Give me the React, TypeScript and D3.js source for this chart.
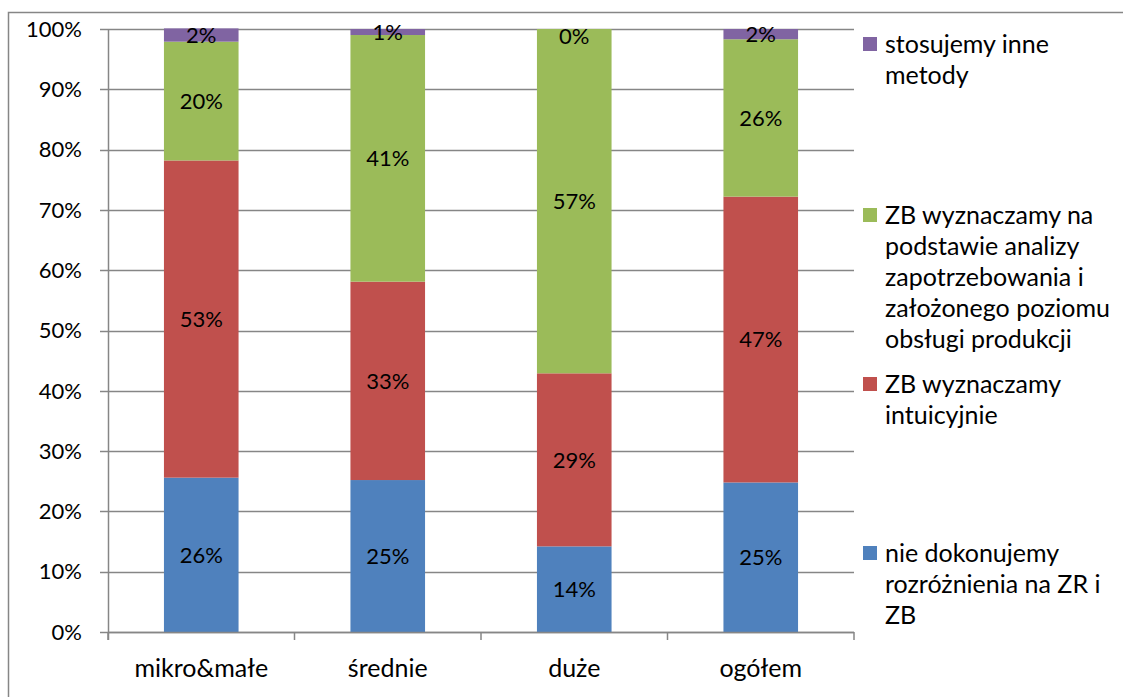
import { useEffect, useRef } from "react";
import * as d3 from "d3";

// Data
const categories = ["mikro&małe", "średnie", "duże", "ogółem"];
const seriesNames = [
    "nie dokonujemy rozróżnienia na ZR i ZB",
    "ZB wyznaczamy intuicyjnie",
    "ZB wyznaczamy na podstawie analizy zapotrzebowania i założonego poziomu obsługi produkcji",
    "stosujemy inne metody",
];
const nieDokonujemy = [25.6, 25.2, 14.2, 24.8];
const intuicyjnie = [52.6, 32.9, 28.7, 47.4];
const naPodstawie = [19.7, 40.9, 57.1, 26.1];
const inneMetody = [2.2, 1.0, 0, 1.7];
const yTicks = [0, 10, 20, 30, 40, 50, 60, 70, 80, 90, 100];

// legend text wrapped like the original
const legendLines = [
    ["nie dokonujemy", "rozróżnienia na ZR i", "ZB"],
    ["ZB wyznaczamy", "intuicyjnie"],
    ["ZB wyznaczamy na", "podstawie analizy", "zapotrzebowania i", "założonego poziomu", "obsługi produkcji"],
    ["stosujemy inne", "metody"],
];
const legendTop = [553, 384, 215, 44];

const colors = ["#4F81BD", "#C0504D", "#9BBB59", "#8064A2"];
const font = "Lato, 'Open Sans', sans-serif";

export default function App() {
    const svgRef = useRef<SVGSVGElement>(null);

    useEffect(() => {
        if (!svgRef.current) return;
        const W = 1123, H = 697;
        const left = 108, right = 854, top = 29, bottom = 632;

        d3.select(svgRef.current).selectAll("*").remove();
        const svg = d3.select(svgRef.current).attr("width", W).attr("height", H);

        // outer frame (cropped on the right/bottom in the reference)
        svg.append("rect")
            .attr("x", 8.5).attr("y", 12.5)
            .attr("width", W + 20).attr("height", H + 20)
            .attr("fill", "white").attr("stroke", "#868686").attr("stroke-width", 1.5);

        const rows = categories.map((c, i) => ({
            cat: c,
            s0: nieDokonujemy[i],
            s1: intuicyjnie[i],
            s2: naPodstawie[i],
            s3: inneMetody[i],
        }));
        const keys = ["s0", "s1", "s2", "s3"];
        const stacked = d3.stack<any>().keys(keys)(rows);

        const x = d3.scaleBand().domain(categories).range([left, right]).paddingInner(0.6).paddingOuter(0.3);
        const y = d3.scaleLinear().domain([0, 100]).range([bottom, top]);

        // gridlines
        svg.append("g")
            .selectAll("line")
            .data(yTicks)
            .join("line")
            .attr("x1", left - 8).attr("x2", right)
            .attr("y1", (d) => Math.round(y(d)) + 0.5).attr("y2", (d) => Math.round(y(d)) + 0.5)
            .attr("stroke", "#868686").attr("stroke-width", 1.5);

        // y labels
        svg.append("g")
            .selectAll("text")
            .data(yTicks)
            .join("text")
            .attr("x", 82).attr("y", (d) => y(d))
            .attr("dy", "0.35em")
            .attr("text-anchor", "end")
            .attr("font-family", font).attr("font-size", 22)
            .attr("fill", "#000")
            .text((d) => d + "%");

        // bars
        stacked.forEach((layer, si) => {
            const g = svg.append("g");
            g.selectAll("rect")
                .data(layer)
                .join("rect")
                .attr("x", (d: any) => x(d.data.cat)!)
                .attr("width", x.bandwidth())
                .attr("y", (d: any) => y(d[1]))
                .attr("height", (d: any) => y(d[0]) - y(d[1]))
                .attr("fill", colors[si]);
        });

        // data labels
        stacked.forEach((layer) => {
            svg.append("g")
                .selectAll("text")
                .data(layer)
                .join("text")
                .attr("x", (d: any) => x(d.data.cat)! + x.bandwidth() / 2)
                .attr("y", (d: any) => {
                    const v = d[1] - d[0];
                    // zero-height labels sit just under the top
                    return v < 1 ? y(d[1]) + 7 : (y(d[0]) + y(d[1])) / 2;
                })
                .attr("dy", "0.35em")
                .attr("text-anchor", "middle")
                .attr("font-family", font).attr("font-size", 22)
                .attr("fill", "#000")
                .text((d: any) => Math.round(d[1] - d[0]) + "%");
        });

        // axes lines
        svg.append("line")
            .attr("x1", left + 0.5).attr("x2", left + 0.5)
            .attr("y1", top).attr("y2", bottom + 8)
            .attr("stroke", "#868686").attr("stroke-width", 1.5);
        svg.append("line")
            .attr("x1", left).attr("x2", right)
            .attr("y1", Math.round(bottom) + 0.5).attr("y2", Math.round(bottom) + 0.5)
            .attr("stroke", "#868686").attr("stroke-width", 1.5);
        const step = (right - left) / categories.length;
        svg.append("g")
            .selectAll("line")
            .data(d3.range(categories.length + 1))
            .join("line")
            .attr("x1", (i) => left + i * step).attr("x2", (i) => left + i * step)
            .attr("y1", bottom).attr("y2", bottom + 8)
            .attr("stroke", "#868686").attr("stroke-width", 1.5);

        // x labels
        svg.append("g")
            .selectAll("text")
            .data(categories)
            .join("text")
            .attr("x", (d) => x(d)! + x.bandwidth() / 2)
            .attr("y", 668)
            .attr("dy", "0.35em")
            .attr("text-anchor", "middle")
            .attr("font-family", font).attr("font-size", 25)
            .attr("fill", "#000")
            .text((d) => d);

        // legend
        seriesNames.forEach((name, i) => {
            const g = svg.append("g").attr("aria-label", name);
            g.append("rect")
                .attr("x", 863).attr("y", legendTop[i] - 7)
                .attr("width", 14).attr("height", 14)
                .attr("fill", colors[i]);
            legendLines[i].forEach((ln, j) => {
                g.append("text")
                    .attr("x", 885).attr("y", legendTop[i] + j * 31)
                    .attr("dy", "0.35em")
                    .attr("font-family", font).attr("font-size", 25)
                    .attr("fill", "#000")
                    .text(ln);
            });
        });
    }, []);

    return <svg ref={svgRef} style={{ position: "absolute", left: 0, top: 0, display: "block" }} />;
}
